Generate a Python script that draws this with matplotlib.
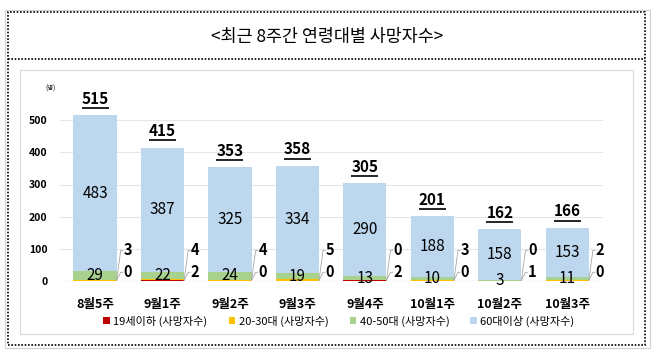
import numpy as np
import matplotlib
matplotlib.use("Agg")
import matplotlib.pyplot as plt
from matplotlib.patches import Rectangle
from matplotlib.lines import Line2D

plt.rcParams['font.family'] = ['Noto Sans CJK KR', 'DejaVu Sans']

# 데이터
weeks = ['8월5주', '9월1주', '9월2주', '9월3주', '9월4주', '10월1주', '10월2주', '10월3주']
under19 = [0, 2, 0, 0, 2, 0, 1, 0]
age2030 = [3, 4, 4, 5, 0, 3, 0, 2]
age4050 = [29, 22, 24, 19, 13, 10, 3, 11]
age60 = [483, 387, 325, 334, 290, 188, 158, 153]
series_names = ['19세이하 (사망자수)', '20-30대 (사망자수)', '40-50대 (사망자수)', '60대이상 (사망자수)']
colors = ['#C00000', '#FFC000', '#A9D18E', '#BDD7EE']

W, H = 659, 356
fig = plt.figure(figsize=(W / 100, H / 100), dpi=100)

def fx(px):
    return px / W

def fy(py):
    return 1 - py / H

# 바깥 테두리
fig.patches.append(Rectangle((fx(5), fy(348)), fx(645), 338 / H, transform=fig.transFigure,
                             fill=False, ec='#D0D0D0', lw=0.8))
fig.patches.append(Rectangle((fx(8), fy(345)), fx(637), 333 / H, transform=fig.transFigure,
                             fill=False, ec='black', lw=1.2, ls=(0, (1, 1))))
fig.lines.append(Line2D([fx(8), fx(645)], [fy(59), fy(59)], transform=fig.transFigure,
                        color='black', lw=1.2, ls=(0, (1, 1))))
fig.patches.append(Rectangle((fx(20), fy(334)), fx(613), 264 / H, transform=fig.transFigure,
                             fill=False, ec='#D9D9D9', lw=0.8))

fig.text(fx(327), fy(37), '<최근 8주간 연령대별 사망자수>', ha='center', va='center',
         fontsize=12.5, fontweight='medium')

ax = fig.add_axes([fx(60), fy(281), fx(543), 193 / H])
x = np.arange(len(weeks))
bw = 0.64

bottom = np.zeros(len(weeks))
data = [under19, age2030, age4050, age60]
for vals, c, name in zip(data, colors, series_names):
    ax.bar(x, vals, bw, bottom=bottom, color=c, label=name, zorder=2)
    bottom = bottom + np.array(vals)

totals = bottom

for i in range(len(weeks)):
    # 60대이상 라벨
    y60 = under19[i] + age2030[i] + age4050[i] + age60[i] / 2
    ax.text(x[i], y60, str(age60[i]), ha='center', va='center', fontsize=11, fontweight='medium')
    # 40-50대 라벨
    y45 = under19[i] + age2030[i] + age4050[i] / 2
    ax.text(x[i], y45, str(age4050[i]), ha='center', va='center', fontsize=11, fontweight='medium')
    # 합계 (밑줄)
    ax.text(x[i], totals[i] + 26, str(int(totals[i])), ha='center', va='bottom',
            fontsize=11, fontweight='bold')
    ax.plot([x[i] - 0.2, x[i] + 0.2], [totals[i] + 22, totals[i] + 22], color='black', lw=1.2,
            solid_capstyle='butt')
    # 19세이하 / 20-30대 콜아웃
    xr = x[i] + bw / 2
    for val, yl in [(age2030[i], 95), (under19[i], 27)]:
        ax.plot([xr, xr + 0.06, xr + 0.09], [2, yl, yl], color='#A6A6A6', lw=0.6, zorder=3)
        ax.text(xr + 0.1, yl, str(val), ha='left', va='center', fontsize=10.5, fontweight='bold')

ax.set_xlim(-0.52, 7.53)
ax.set_ylim(0, 600)
ax.set_yticks([0, 100, 200, 300, 400, 500])
ax.set_xticks(x)
ax.set_xticklabels(weeks, fontsize=9, fontweight='bold')
ax.tick_params(axis='x', length=0, pad=12)
ax.tick_params(axis='y', length=0, pad=9, labelsize=7.5)
for lab in ax.get_yticklabels():
    lab.set_fontweight('bold')
ax.grid(axis='y', color='#E5E5E5', lw=0.8, zorder=0)
for s in ax.spines.values():
    s.set_visible(False)
ax.axhline(0, color='#D9D9D9', lw=0.8, zorder=1)

fig.text(fx(51), fy(89), '(명)', ha='center', va='center', fontsize=4.5)

fig.legend(loc='center', bbox_to_anchor=(fx(339), fy(321)), ncol=4, frameon=False,
           fontsize=8, handlelength=0.6, handleheight=0.6, handletextpad=0.3,
           columnspacing=1.9)

fig.savefig('out.png', dpi=100)
